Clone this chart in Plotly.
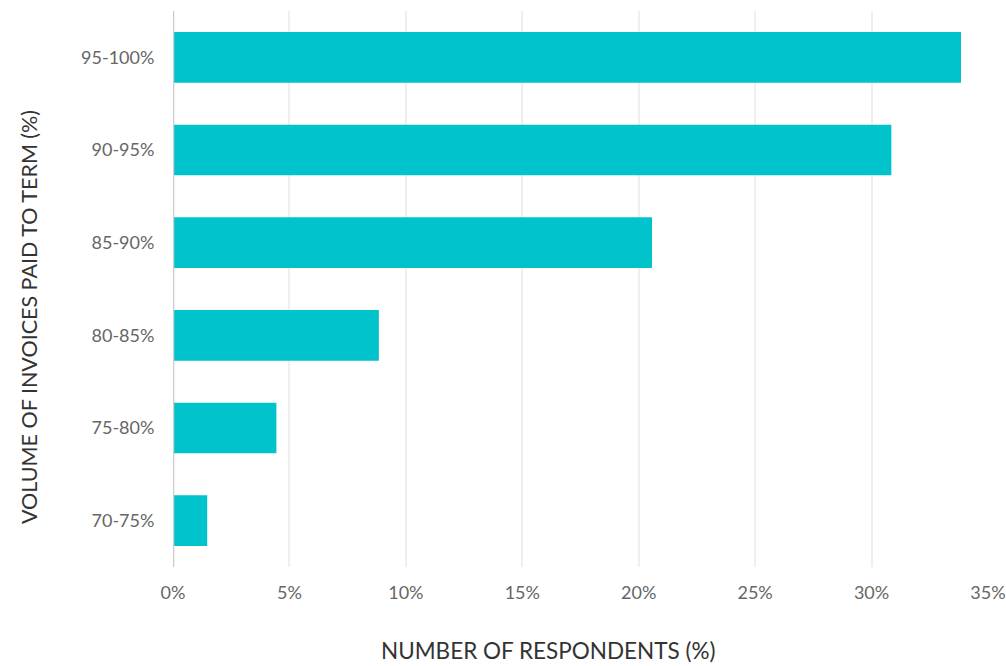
import plotly.graph_objects as go

categories = ["70-75%", "75-80%", "80-85%", "85-90%", "90-95%", "95-100%"]
values = [1.47, 4.44, 8.84, 20.57, 30.85, 33.84]
x_ticks = [0, 5, 10, 15, 20, 25, 30, 35]
x_tick_labels = ["0%", "5%", "10%", "15%", "20%", "25%", "30%", "35%"]
x_title = "NUMBER OF RESPONDENTS (%)"
y_title = "VOLUME OF INVOICES PAID TO TERM (%)"

fig = go.Figure(go.Bar(
    x=values, y=categories, orientation="h",
    marker=dict(color="#00C3CC", line=dict(width=0)),
    hoverinfo="skip",
))

fig.update_layout(
    width=1006, height=666,
    margin=dict(l=173, r=18, t=11, b=99),
    paper_bgcolor="white", plot_bgcolor="white",
    font=dict(family="Lato", size=18, color="#666666"),
    bargap=0.454,
    showlegend=False,
)
fig.update_xaxes(
    range=[0, 35], tickvals=x_ticks, ticktext=x_tick_labels,
    automargin=False,
    showgrid=True, gridcolor="#EFEFEF", gridwidth=2,
    zeroline=False, showline=False,
    ticks="outside", ticklen=9, tickcolor="rgba(0,0,0,0)",
    tickfont=dict(family="Lato", size=18, color="#666666"),
)
fig.update_yaxes(
    categoryorder="array", categoryarray=categories,
    automargin=False,
    showgrid=False, zeroline=False,
    showline=False,
    ticks="outside", ticklen=14, tickcolor="rgba(0,0,0,0)",
    tickfont=dict(family="Lato", size=18, color="#666666"),
)
fig.add_shape(type="line", xref="x", yref="paper", x0=0, x1=0, y0=0, y1=1,
              line=dict(color="#CCCCCC", width=2.5), layer="above")

fig.add_annotation(text=x_title, xref="paper", yref="paper",
                   x=0.4613, y=-0.151, xanchor="center", yanchor="middle",
                   showarrow=False,
                   font=dict(family="Lato", size=22.5, color="#333333"))
fig.add_annotation(text=y_title, xref="paper", yref="paper",
                   x=-0.1767, y=0.4496, xanchor="center", yanchor="middle",
                   textangle=-90, showarrow=False,
                   font=dict(family="Lato", size=21.5, color="#333333"))

fig.write_html("out.html")
